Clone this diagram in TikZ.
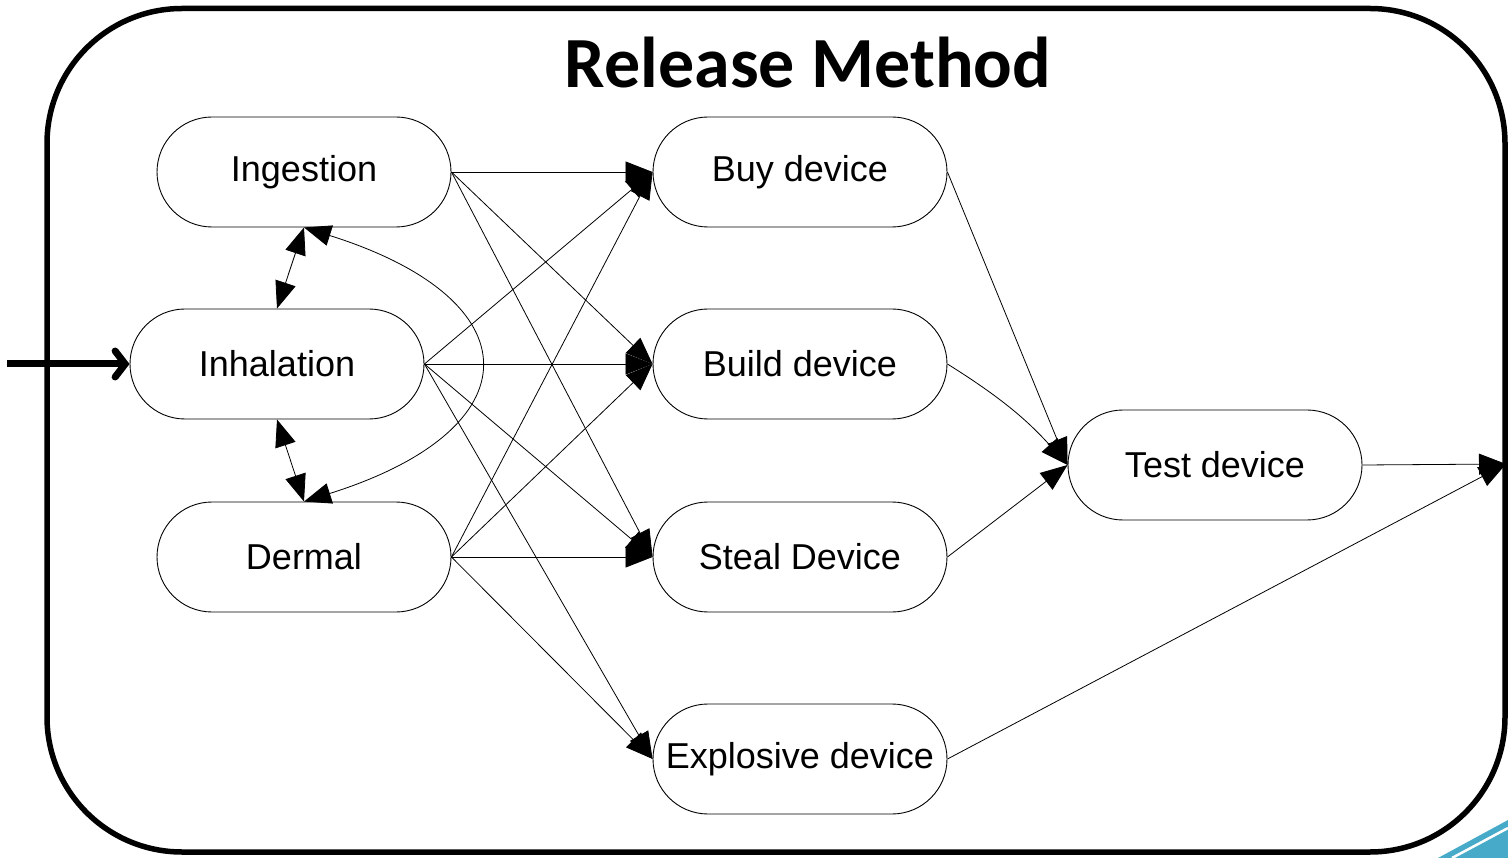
\documentclass[tikz,border=0pt]{standalone}
\usepackage{fontspec}
\setmainfont{Liberation Sans}
\newfontfamily\titlefont{Carlito}
\usetikzlibrary{arrows.meta}
\definecolor{teal1}{RGB}{70,170,200}
\tikzset{
  box/.style={draw=black, line width=0.9pt, rectangle, rounded corners=55pt,
    minimum width=294pt, minimum height=110pt, inner sep=0pt,
    font=\fontsize{36}{40}\selectfont},
  conn/.style={line width=0.8pt, -{Triangle[length=27pt,width=21pt]}},
  dconn/.style={line width=0.8pt, {Triangle[length=27pt,width=21pt]}-{Triangle[length=27pt,width=21pt]}},
  frame/.style={line width=5.5pt, rounded corners=135pt},
  inarrow/.style={line width=7pt, -{Straight Barb[length=10pt,width=26pt,line cap=round]}}
}
\begin{document}
\begin{tikzpicture}[x=1pt,y=-1pt]
\useasboundingbox (0,0) rectangle (1508,858);
% frame
\draw[frame] (47,8.5) rectangle (1505,852);
% decoration
\fill[teal1] (1438,858) -- (1508,820) -- (1508,858) -- cycle;
\draw[white, line width=2.5pt] (1452,858) -- (1508,828);
% title
\node[anchor=base, inner sep=0pt, font=\titlefont\bfseries\fontsize{72}{80}\selectfont] (title) at (808,88) {Release Method};
% nodes
\node[box] (ing) at (304,172) {Ingestion};
\node[box] (inh) at (277,364) {Inhalation};
\node[box] (der) at (304,557) {Dermal};
\node[box] (buy) at (800,172) {Buy device};
\node[box] (bld) at (800,364) {Build device};
\node[box] (stl) at (800,557) {Steal Device};
\node[box] (exp) at (800,759) {Explosive device};
\node[box] (tst) at (1215,465) {Test device};
\coordinate (src) at (7,364);
\coordinate (out) at (1506,464);
% input
\draw[inarrow] (src) -- (inh.west);
% ingestion
\draw[conn] (ing.east) -- (buy.west);
\draw[conn] (ing.east) -- (bld.west);
\draw[conn] (ing.east) -- (stl.west);
% inhalation
\draw[conn] (inh.east) -- (buy.west);
\draw[conn] (inh.east) -- (bld.west);
\draw[conn] (inh.east) -- (stl.west);
\draw[conn] (inh.east) -- (exp.west);
% dermal
\draw[conn] (der.east) -- (buy.west);
\draw[conn] (der.east) -- (bld.west);
\draw[conn] (der.east) -- (stl.west);
\draw[conn] (der.east) -- (exp.west);
% to test
\draw[conn] (buy.east) -- (tst.west);
\draw[conn] (bld.east) to[bend left=8] (tst.west);
\draw[conn] (stl.east) -- (tst.west);
% outputs
\draw[conn] (tst.east) -- (out);
\draw[conn] (exp.east) -- (out);
% double arrows
\draw[dconn] (ing.south) -- (inh.north);
\draw[dconn] (inh.south) -- (der.north);
\draw[dconn] (ing.south) .. controls (535,300) and (535,429) .. (der.north);
\end{tikzpicture}
\end{document}
